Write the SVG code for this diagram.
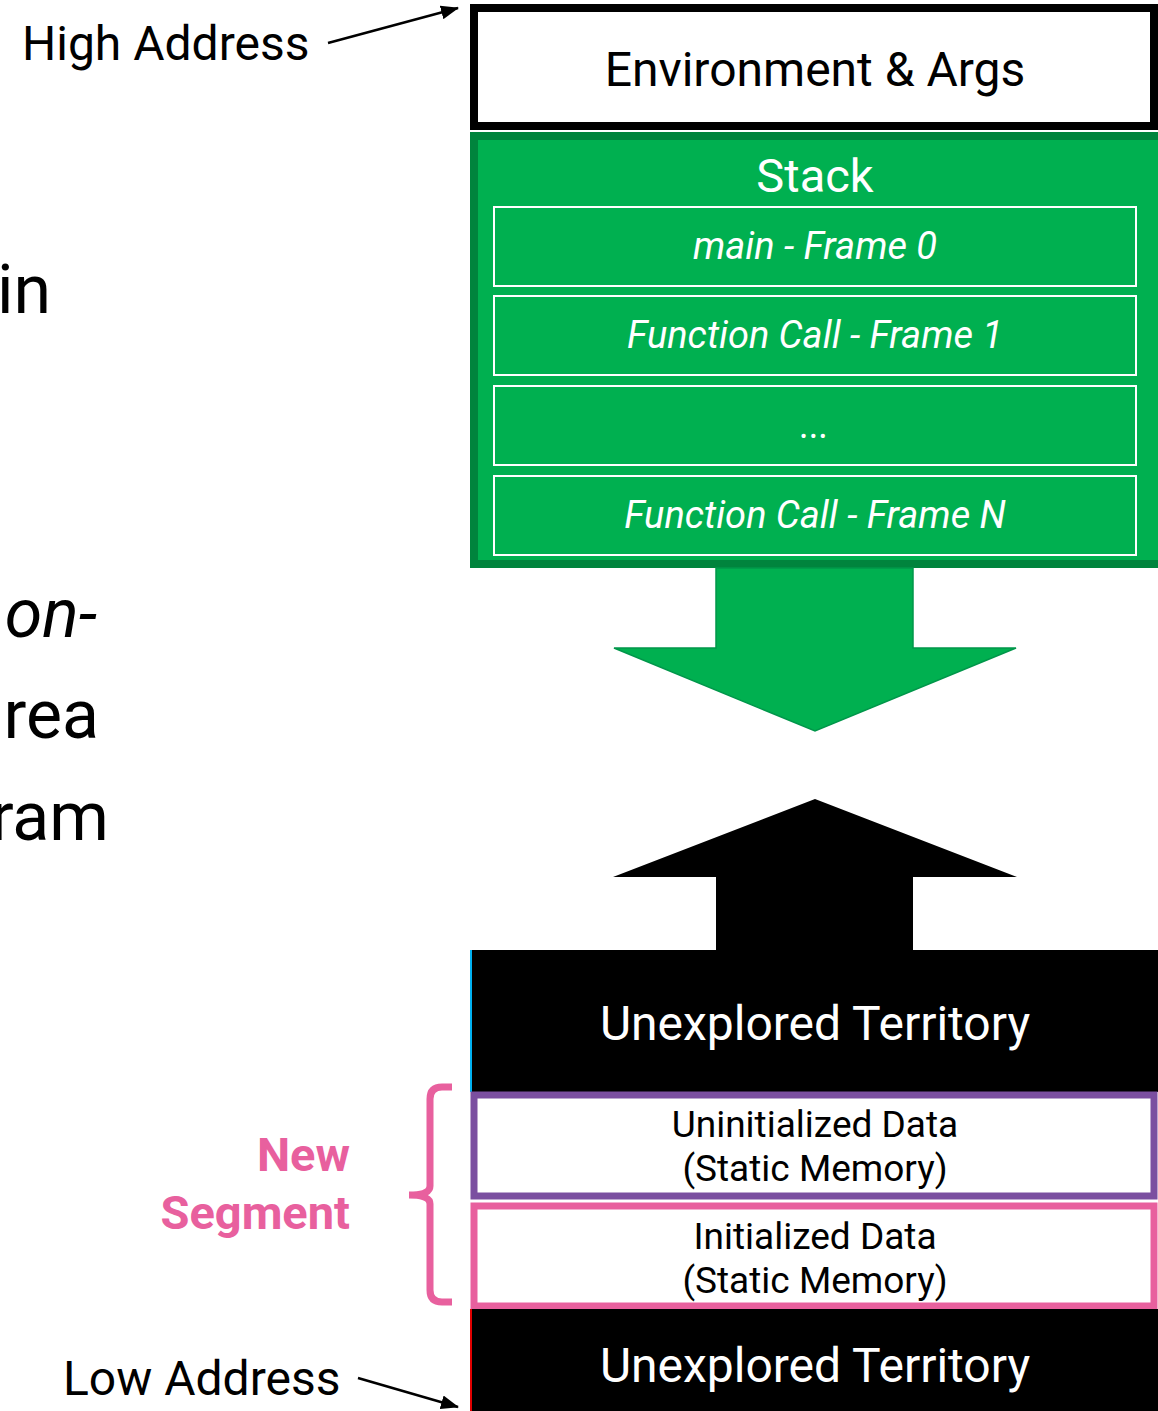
<svg xmlns="http://www.w3.org/2000/svg" width="1158" height="1411" viewBox="0 0 1158 1411">
  <style>
    text { font-family: Roboto, "Liberation Sans", sans-serif; }
    .c { text-anchor: middle; }
    .w { fill: #ffffff; }
    .k { fill: #000000; }
    .frame { fill: none; stroke: #ffffff; stroke-width: 2; }
    .fr { font-size: 38px; font-style: italic; fill: #ffffff; text-anchor: middle; }
    .data { font-size: 37px; fill: #000000; text-anchor: middle; }
    .pink { fill: #E8609E; font-weight: bold; font-size: 47px; text-anchor: end; }
    .frag { font-size: 68px; fill: #000000; text-anchor: end; }
    .ptr { stroke: #000000; stroke-width: 2.5; fill: none; marker-end: url(#ah); }
  </style>
  <defs>
    <marker id="ah" markerWidth="18" markerHeight="14" refX="17" refY="7" orient="auto" markerUnits="userSpaceOnUse">
      <path d="M0,0 L18,7 L0,14 Z" fill="#000000"/>
    </marker>
  </defs>
  <rect x="0" y="0" width="1158" height="1411" fill="#ffffff"/>

  <g id="fragments">
    <text class="frag" x="51" y="313">in</text>
    <text class="frag" x="97" y="637" font-style="italic">on-</text>
    <text class="frag" x="99" y="738">rea</text>
    <text class="frag" x="109" y="840">gram</text>
  </g>

  <g id="high-address">
    <text x="22" y="60" font-size="48">High Address</text>
  </g>
  <g id="low-address">
    <text x="63" y="1395" font-size="48">Low Address</text>
  </g>

  <g id="env">
    <rect x="474" y="8" width="680" height="118" fill="#ffffff" stroke="#000000" stroke-width="8"/>
    <text class="c k" x="815" y="86" font-size="48">Environment &amp; Args</text>
  </g>

  <g id="stack">
    <rect x="474" y="136" width="688" height="428" fill="#00B050" stroke="#00843D" stroke-width="8"/>
    <text class="c w" x="815" y="192" font-size="47">Stack</text>
  </g>
  <g id="frame0">
    <rect class="frame" x="494" y="207" width="642" height="79"/>
    <text class="fr" x="815" y="259">main - Frame 0</text>
  </g>
  <g id="frame1">
    <rect class="frame" x="494" y="296" width="642" height="79"/>
    <text class="fr" x="815" y="348">Function Call - Frame 1</text>
  </g>
  <g id="frame-dots">
    <rect class="frame" x="494" y="386" width="642" height="79"/>
    <text class="fr" x="815" y="438">...</text>
  </g>
  <g id="frameN">
    <rect class="frame" x="494" y="476" width="642" height="79"/>
    <text class="fr" x="815" y="528">Function Call - Frame N</text>
  </g>

  <g id="stack-arrow">
    <path d="M716,568 L913,568 L913,648 L1016,648 L815,731 L614,648 L716,648 Z" fill="#00B050" stroke="#00964A" stroke-width="1.5"/>
  </g>
  <g id="heap-arrow">
    <path d="M815,799 L1017,877 L913,877 L913,952 L716,952 L716,877 L613,877 Z" fill="#000000"/>
  </g>

  <g id="unexplored-top">
    <rect x="470" y="950" width="688" height="142" fill="#000000"/>
    <line x1="471" y1="950" x2="471" y2="1092" stroke="#00B0F0" stroke-width="2"/>
    <text class="c w" x="815" y="1040" font-size="48">Unexplored Territory</text>
  </g>

  <g id="bss">
    <rect x="474" y="1095" width="680" height="101" fill="#ffffff" stroke="#7B4FA0" stroke-width="7"/>
    <text class="data" x="815" y="1137">Uninitialized Data</text>
    <text class="data" x="815" y="1181">(Static Memory)</text>
  </g>

  <g id="data">
    <rect x="474" y="1206" width="680" height="100" fill="#ffffff" stroke="#E8609E" stroke-width="7"/>
    <text class="data" x="815" y="1249">Initialized Data</text>
    <text class="data" x="815" y="1293">(Static Memory)</text>
  </g>

  <g id="unexplored-bottom">
    <rect x="470" y="1309" width="688" height="102" fill="#000000"/>
    <line x1="471" y1="1309" x2="471" y2="1411" stroke="#E00000" stroke-width="2"/>
    <text class="c w" x="815" y="1382" font-size="48">Unexplored Territory</text>
  </g>

  <g id="new-segment">
    <path d="M452,1087 H442 Q430,1087 430,1099 V1186 Q430,1195 409,1195 Q430,1195 430,1204 V1290 Q430,1302 442,1302 H452" fill="none" stroke="#E8609E" stroke-width="7"/>
    <text class="pink" x="350" y="1171">New</text>
    <text class="pink" x="350" y="1229">Segment</text>
  </g>

  <g id="connectors">
    <line class="ptr" x1="328" y1="43" x2="458" y2="8"/>
    <line class="ptr" x1="358" y1="1378" x2="458" y2="1407"/>
  </g>
</svg>
